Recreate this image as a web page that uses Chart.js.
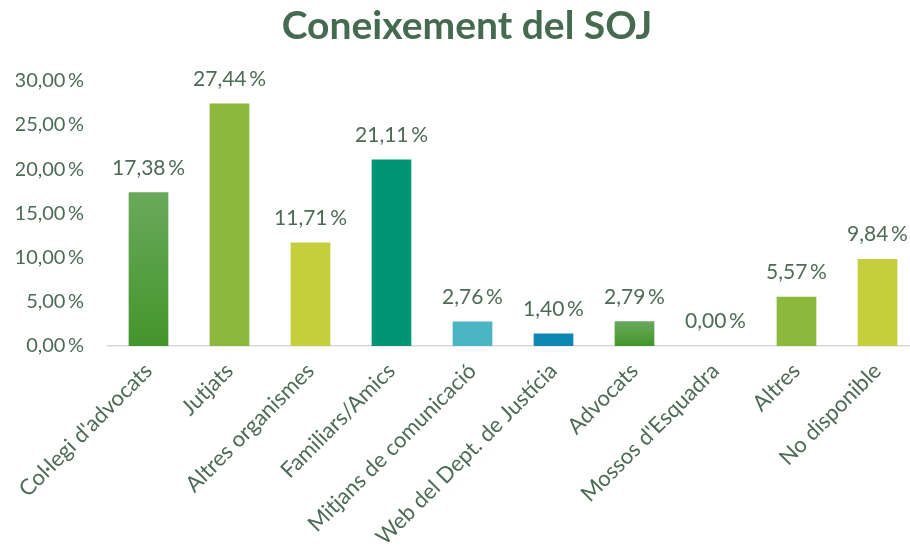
<!DOCTYPE html>
<html>
<head>
<meta charset="utf-8">
<script src="https://cdn.jsdelivr.net/npm/chart.js@4"></script>
<style>
  html, body { margin: 0; padding: 0; background: #ffffff; overflow: hidden; }
  #wrap { width: 938px; height: 555px; position: relative; }
</style>
</head>
<body>
<div id="wrap"><canvas id="sojChart"></canvas></div>
<script>
const categories = [
  "Col·legi d'advocats", "Jutjats", "Altres organismes", "Familiars/Amics",
  "Mitjans de comunicació", "Web del Dept. de Justícia", "Advocats",
  "Mossos d'Esquadra", "Altres", "No disponible"
];
const percentages = [17.38, 27.44, 11.71, 21.11, 2.76, 1.40, 2.79, 0.00, 5.57, 9.84];
const yTicks = [0, 5, 10, 15, 20, 25, 30];

const text_color = "#4d6b57";
const font_family = "Lato, 'Open Sans', sans-serif";

function fmt_pct(v) {
  return v.toFixed(2).replace(".", ",") + "\u2009%";
}

// excel-style vertical gradient for the two darker green bars
function green_gradient(c) {
  const area = c.chart.chartArea;
  const yScale = c.chart.scales.y;
  if (!area || !yScale) return "#4f9d38";
  const top = yScale.getPixelForValue(percentages[c.dataIndex]);
  if (!isFinite(top) || !isFinite(area.bottom) || top >= area.bottom) return "#4f9d38";
  const g = c.chart.ctx.createLinearGradient(0, top, 0, area.bottom);
  g.addColorStop(0, "#6aa95b");
  g.addColorStop(1, "#43952b");
  return g;
}

const bar_colors = [
  green_gradient, "#8cb83b", "#c4cf3b", "#009674", "#4bb5c4",
  "#0f87b3", green_gradient, "#8cb83b", "#8cb83b", "#c4cf3b"
];

const valueLabels = {
  id: "valueLabels",
  afterDatasetsDraw(chart) {
    const ctx = chart.ctx;
    const meta = chart.getDatasetMeta(0);
    ctx.save();
    ctx.fillStyle = text_color;
    ctx.font = "21px " + font_family;
    ctx.textAlign = "center";
    ctx.textBaseline = "bottom";
    meta.data.forEach((bar, i) => {
      ctx.fillText(fmt_pct(percentages[i]), bar.x, bar.y - 14);
    });
    ctx.restore();
  }
};

const ctx = document.getElementById("sojChart").getContext("2d");
const sojChart = new Chart(ctx, {
  type: "bar",
  data: {
    labels: categories,
    datasets: [{
      data: percentages,
      backgroundColor: (c) => {
        const col = bar_colors[c.dataIndex];
        return typeof col === "function" ? col(c) : col;
      },
      barPercentage: 0.98,
      categoryPercentage: 0.5
    }]
  },
  options: {
    responsive: true,
    maintainAspectRatio: false,
    animation: false,
    layout: { padding: { left: 16, right: 20, top: 0, bottom: 0 } },
    plugins: {
      legend: { display: false },
      tooltip: { enabled: false },
      title: {
        display: true,
        text: "Coneixement del SOJ",
        color: "#456a50",
        font: { family: font_family, size: 39, weight: "bold" },
        padding: { top: 3, bottom: 31 }
      }
    },
    scales: {
      x: {
        grid: { display: false, drawTicks: false },
        border: { display: true, color: "#d9d9d9", width: 1.5 },
        ticks: {
          color: text_color,
          font: { family: font_family, size: 22 },
          minRotation: 45,
          maxRotation: 45,
          padding: 12
        },
        afterFit: (scale) => { scale.height = 209; }
      },
      y: {
        min: 0,
        max: 30,
        afterBuildTicks: (scale) => { scale.ticks = yTicks.map(v => ({ value: v })); },
        grid: { display: false, drawTicks: false },
        border: { display: false },
        ticks: {
          color: text_color,
          font: { family: font_family, size: 20 },
          padding: 24,
          callback: (v) => fmt_pct(v)
        },
        afterFit: (scale) => { scale.width = 92; }
      }
    }
  },
  plugins: [valueLabels]
});
</script>
</body>
</html>
